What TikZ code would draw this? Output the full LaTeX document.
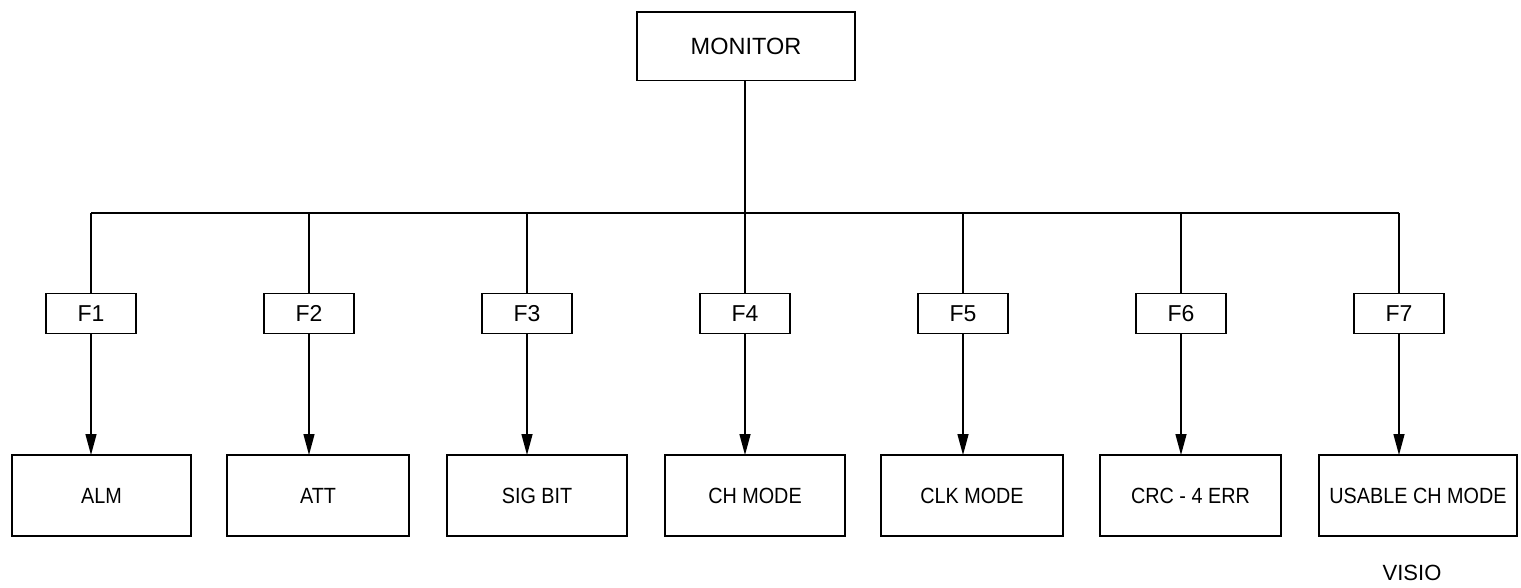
\documentclass[tikz,border=0pt]{standalone}
\usepackage{fontspec}
\setmainfont{Liberation Sans}
\usetikzlibrary{arrows.meta}
\newcommand{\sqz}[1]{\scalebox{0.9}[1]{#1}}
\begin{document}
\begin{tikzpicture}[x=1pt,y=-1pt,
  every path/.style={line width=1.4pt},
  box/.style={draw, line width=1.4pt, inner sep=0pt, outer sep=0pt, align=center,
    font=\fontsize{22}{26}\selectfont},
  topbox/.style={box, minimum width=218pt, minimum height=68.7pt, font=\fontsize{23.5}{28}\selectfont},
  fbox/.style={box, minimum width=90pt, minimum height=40pt, font=\fontsize{23}{27}\selectfont},
  leaf/.style={box, minimum height=81pt},
  arr/.style={-{Triangle[length=21pt,width=11pt]}}
]
\useasboundingbox (0,0) rectangle (1521,588);

\node[topbox] (m) at (746,46.3) {MONITOR};
\coordinate (bus) at (745,213);

\node[fbox] (f1) at (91,313.3) {F1};
\node[fbox] (f2) at (309,313.3) {F2};
\node[fbox] (f3) at (527,313.3) {F3};
\node[fbox] (f4) at (745,313.3) {F4};
\node[fbox] (f5) at (963,313.3) {F5};
\node[fbox] (f6) at (1181,313.3) {F6};
\node[fbox] (f7) at (1399,313.3) {F7};

\node[leaf, minimum width=179pt] (l1) at (101.5,495.5) {\sqz{ALM}};
\node[leaf, minimum width=182pt] (l2) at (318,495.5) {\sqz{ATT}};
\node[leaf, minimum width=180pt] (l3) at (537,495.5) {\sqz{SIG BIT}};
\node[leaf, minimum width=180pt] (l4) at (755,495.5) {\sqz{CH MODE}};
\node[leaf, minimum width=182pt] (l5) at (972,495.5) {\sqz{CLK MODE}};
\node[leaf, minimum width=181pt] (l6) at (1190.5,495.5) {\sqz{CRC - 4 ERR}};
\node[leaf, minimum width=198pt] (l7) at (1418,495.5) {\sqz{USABLE CH MODE}};

\node[font=\fontsize{22}{26}\selectfont, inner sep=0pt] (visio) at (1412,573) {VISIO};

\draw (m.south -| bus) -- (bus);
\draw (f1.north |- bus) -- (f7.north |- bus);
\foreach \i in {1,...,7} {
  \draw (f\i.north |- bus) -- (f\i.north);
  \draw[arr] (f\i.south) -- (f\i.south |- l\i.north);
}
\end{tikzpicture}
\end{document}
